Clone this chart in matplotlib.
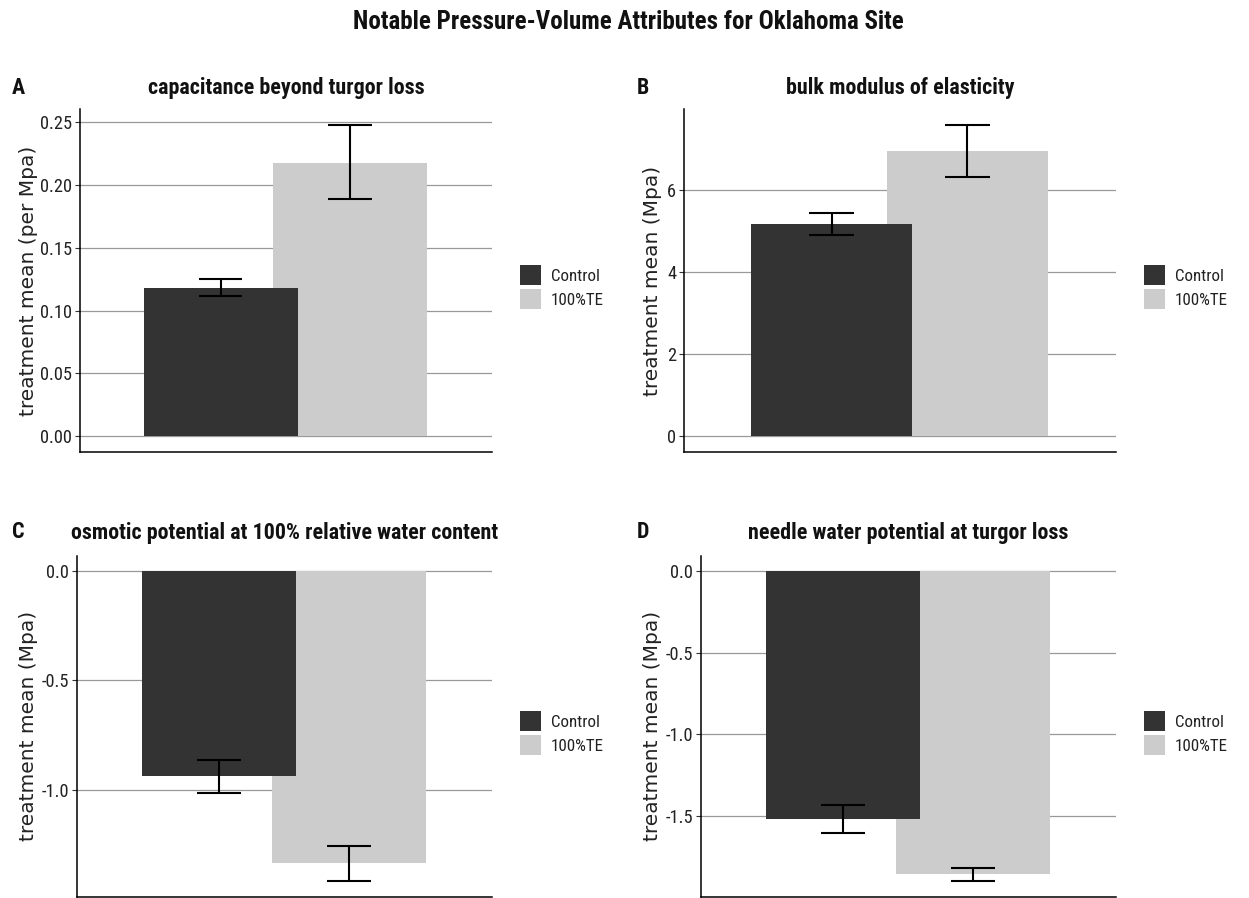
import matplotlib
matplotlib.use("Agg")
import matplotlib.pyplot as plt
from matplotlib.patches import Patch
from matplotlib import font_manager as fm

# ---------------- data ----------------
treatments = ["Control", "100%TE"]
bar_colors = ["#333333", "#CCCCCC"]

cap_mean = [0.118, 0.218]
cap_lo = [0.112, 0.189]
cap_hi = [0.125, 0.248]

bulk_mean = [5.17, 6.95]
bulk_lo = [4.90, 6.32]
bulk_hi = [5.43, 7.58]

osm_mean = [-0.939, -1.334]
osm_lo = [-1.016, -1.419]
osm_hi = [-0.863, -1.257]

tlp_mean = [-1.516, -1.858]
tlp_lo = [-1.606, -1.901]
tlp_hi = [-1.431, -1.817]

cap_ticks = [0.00, 0.05, 0.10, 0.15, 0.20, 0.25]
cap_ticklabels = ["0.00", "0.05", "0.10", "0.15", "0.20", "0.25"]
bulk_ticks = [0, 2, 4, 6]
bulk_ticklabels = ["0", "2", "4", "6"]
osm_ticks = [0.0, -0.5, -1.0]
osm_ticklabels = ["0.0", "-0.5", "-1.0"]
tlp_ticks = [0.0, -0.5, -1.0, -1.5]
tlp_ticklabels = ["0.0", "-0.5", "-1.0", "-1.5"]

main_title = "Notable Pressure-Volume Attributes for Oklahoma Site"
titles = ["capacitance beyond turgor loss", "bulk modulus of elasticity",
          "osmotic potential at 100% relative water content",
          "needle water potential at turgor loss"]
letters = ["A", "B", "C", "D"]
ylabels = ["treatment mean (per Mpa)", "treatment mean (Mpa)",
           "treatment mean (Mpa)", "treatment mean (Mpa)"]

# ---------------- fonts ----------------
plt.rcParams["axes.unicode_minus"] = False
weights = {}
for f in fm.fontManager.ttflist:
    try:
        w = int(f.weight)
    except (TypeError, ValueError):
        w = fm.weight_dict.get(str(f.weight), 400)
    if f.style == "normal":
        weights.setdefault(f.name, set()).add(w)

cands = ["Liberation Sans Narrow", "Arial Narrow", "Roboto Condensed", "Archivo Narrow",
         "PT Sans Narrow", "IBM Plex Sans Condensed", "Open Sans Condensed", "Liberation Sans"]
REG_NAME = next((c for c in cands if 400 in weights.get(c, set())), "DejaVu Sans")
BOLD_NAME = next((c for c in cands if 700 in weights.get(c, set())), "DejaVu Sans")
NARROW = [REG_NAME, "DejaVu Sans"]
NARROW_B = [BOLD_NAME, "DejaVu Sans"]
REG = ["DejaVu Sans"]

W, H = 1249, 898
fig = plt.figure(figsize=(W / 100, H / 100), dpi=100)
fig.patch.set_facecolor("white")
renderer = fig.canvas.get_renderer()


def fit_size(text, fam, weight, target_w, base=20.0):
    t = fig.text(0, 0, text, family=fam, fontweight=weight, fontsize=base)
    w = t.get_window_extent(renderer).width
    t.remove()
    return base * target_w / w


title_fs = fit_size(titles[0], NARROW_B, "bold", 276)
main_fs = fit_size(main_title, NARROW_B, "bold", 550)
letter_fs = title_fs
legend_fs = fit_size("Control", NARROW, "normal", 49)
tick_fs = fit_size("0.25", NARROW, "normal", 32)


def px_axes(l, r, t, b):
    return fig.add_axes([l / W, 1 - b / H, (r - l) / W, (b - t) / H])


def fx(x):
    return x / W


def fy(y):
    return 1 - y / H


positions = [0.0, 0.84]
bar_width = 1.0
cap_half = 0.14

panels = [
    dict(box=(80, 492, 109.3, 451.7), mean=cap_mean, lo=cap_lo, hi=cap_hi,
         ticks=cap_ticks, tl=cap_ticklabels, leg=(520, 287), title_y=94, label_x=29),
    dict(box=(684, 1116, 109.3, 451.7), mean=bulk_mean, lo=bulk_lo, hi=bulk_hi,
         ticks=bulk_ticks, tl=bulk_ticklabels, leg=(1144, 287), title_y=94, label_x=653),
    dict(box=(77, 492, 555.5, 897), mean=osm_mean, lo=osm_lo, hi=osm_hi,
         ticks=osm_ticks, tl=osm_ticklabels, leg=(520, 733), title_y=538.5, label_x=29),
    dict(box=(701, 1116, 555.5, 897), mean=tlp_mean, lo=tlp_lo, hi=tlp_hi,
         ticks=tlp_ticks, tl=tlp_ticklabels, leg=(1144, 733), title_y=538.5, label_x=653),
]

for i, p in enumerate(panels):
    l, r, t, b = p["box"]
    ax = px_axes(l, r, t, b)
    # bars: 100%TE first, Control on top
    for k in [1, 0]:
        ax.bar(positions[k], p["mean"][k], width=bar_width, color=bar_colors[k],
               edgecolor="none", zorder=2 + (1 - k))
    # error bars
    for k in range(2):
        ax.vlines(positions[k], p["lo"][k], p["hi"][k], color="black", lw=1.5, zorder=5)
        ax.hlines([p["lo"][k], p["hi"][k]], positions[k] - cap_half, positions[k] + cap_half,
                  color="black", lw=1.5, zorder=5)
    # ggplot-style 5% expansion
    vals = list(p["lo"]) + list(p["hi"]) + list(p["mean"]) + [0.0]
    lo_v, hi_v = min(vals), max(vals)
    pad = 0.05 * (hi_v - lo_v)
    ax.set_ylim(lo_v - pad, hi_v + pad)
    ax.set_xlim(-0.917, 1.764)
    ax.set_yticks(p["ticks"])
    ax.set_yticklabels(p["tl"], family=NARROW, fontsize=tick_fs, color="#222222")
    ax.set_xticks([])
    ax.yaxis.grid(True, color="#999999", lw=0.9, zorder=0)
    ax.set_axisbelow(True)
    ax.tick_params(axis="y", length=3.5, width=0.8, color="#333333", pad=2)
    for s in ["top", "right"]:
        ax.spines[s].set_visible(False)
    for s in ["left", "bottom"]:
        ax.spines[s].set_linewidth(1.1)
        ax.spines[s].set_color("black")

    # titles
    fig.text(fx((l + r) / 2), fy(p["title_y"]), titles[i], ha="center", va="baseline",
             family=NARROW_B, fontweight="bold", fontsize=title_fs, color="#111111")
    panel_left = 0 if l < 600 else 624.5
    fig.text(fx(panel_left + 12), fy(p["title_y"] - 0.5), letters[i], ha="left", va="baseline",
             family=NARROW_B, fontweight="bold", fontsize=letter_fs, color="#111111")
    # y label
    fig.text(fx(p["label_x"]), fy((t + b) / 2), ylabels[i], rotation=90, ha="center",
             va="center", family=REG, fontsize=14.5, color="#222222")

    # legend
    handles = [Patch(facecolor=bar_colors[k], edgecolor="none", label=treatments[k])
               for k in range(2)]
    lx, ly = p["leg"]
    hl = 20.5 / (legend_fs * 100 / 72)
    hh = 25.5 / (legend_fs * 100 / 72)
    leg = ax.legend(handles=handles, loc="center left", bbox_to_anchor=(fx(lx), fy(ly)),
                    bbox_transform=fig.transFigure, frameon=False, borderpad=0,
                    borderaxespad=0, handlelength=hl, handleheight=hh,
                    labelspacing=0.2, handletextpad=0.6,
                    prop=dict(family=NARROW, size=legend_fs))
    for txt in leg.get_texts():
        txt.set_color("#222222")

fig.text(fx(628), fy(29), main_title, ha="center", va="baseline", family=NARROW_B,
         fontweight="bold", fontsize=main_fs, color="#111111")

fig.savefig("out.png", dpi=100, facecolor="white")
